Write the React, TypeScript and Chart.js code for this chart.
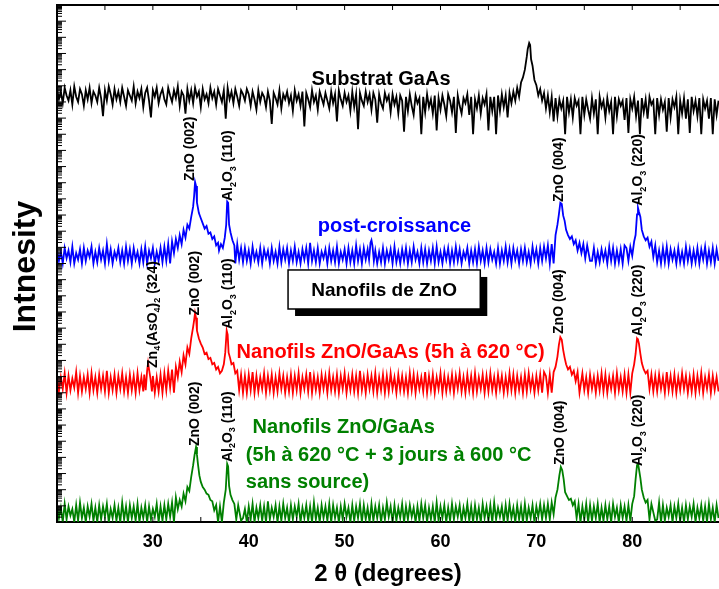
import React, { useEffect, useRef } from "react";
import { Chart, registerables } from "chart.js";

Chart.register(...registerables);

const FONT = '"Liberation Sans", Arial, Helvetica, sans-serif';

// 2θ measurement grid (degrees)
const gridStart = 20;
const gridStep = 0.2;
const gridCount = 346;
const twoTheta: number[] = Array.from({ length: gridCount }, (_, i) => +(gridStart + i * gridStep).toFixed(1));

const xTickLabels = [30, 40, 50, 60, 70, 80];

// ---- Substrat GaAs (black), intensity in panel units (0..100)
const blackNoise = [
  35, 27, 33, 24, 36, 30, 26, 34, 23, 37, 29, 25, 35, 31, 22, 34, 27, 36, 24, 33,
  30, 25, 36, 28, 14, 34, 26, 37, 31, 23, 35, 27, 33, 25, 36, 29, 22, 34, 30, 26,
  37, 24, 33, 28, 35, 21, 32, 36, 26, 13, 34, 29, 36, 24, 31, 35, 27, 23, 36, 30,
  25, 34, 28, 37, 22, 33, 30, 16, 35, 26, 34, 24, 36, 29, 33, 21, 35, 27, 31, 24,
  36, 28, 33, 23, 35, 30, 25, 34, 12, 36, 27, 33, 24, 35, 29, 22, 34, 31, 26, 35,
  31, 22, 33, 27, 19, 34, 25, 32, 29, 21, 33, 26, 8, 32, 28, 23, 34, 20, 31, 27,
  33, 24, 30, 18, 34, 26, 31, 22, 33, 6, 32, 27, 21, 34, 25, 30, 19, 33, 28, 23,
  32, 26, 20, 33, 24, 31, 10, 34, 27, 22, 32, 25, 30, 18, 33, 21, 31, 4, 32, 26,
  22, 33, 25, 31, 19, 32, 27, 9, 31, 24, 20, 32, 26, 30, 17, 31, 23, 29, 16, 30,
  26, 2, 29, 18, 31, 22, 15, 30, 24, 28, 0, 29, 17, 31, 21, 27, 16, 30, 3, 28,
  19, 30, 23, 14, 31, 26, 17, 29, 1, 30, 22, 16, 28, 24, 31, 15, 29, 0, 27, 20,
  30, 16, 28, 23, 31, 3, 29, 18, 30, 25, 32, 24, 33, 28, 34, 31, 36, 33, 38, 42,
  45, 50, 62, 70, 55, 42, 36, 33, 30, 28, 31, 27, 29, 24, 30, 20, 28, 15, 29, 12,
  27, 14, 28, 20, 26, 0, 29, 17, 27, 13, 28, 22, 26, 0, 29, 15, 27, 19, 12, 28,
  16, 27, 0, 29, 21, 26, 13, 28, 18, 25, 0, 29, 14, 27, 22, 26, 11, 28, 1, 27,
  20, 29, 14, 26, 0, 28, 17, 27, 12, 29, 23, 26, 0, 28, 15, 27, 19, 25, 2, 28,
  13, 27, 21, 29, 0, 26, 16, 28, 12, 27, 1, 29, 18, 26, 14, 28, 0, 27, 20, 26,
  12, 28, 0, 27, 15, 26,
];
const blackPeaks: [number, number][][] = [
  [
    [65.6, 29], [65.8, 0], [66.0, 30], [66.2, 18], [66.4, 31], [66.6, 21], [66.8, 30], [67.0, 13],
    [67.2, 32], [67.4, 24], [67.6, 33], [67.8, 26], [68.0, 36], [68.2, 29], [68.4, 40], [68.6, 44],
    [68.8, 50], [69.0, 60], [69.1, 66], [69.25, 70.6], [69.35, 69], [69.45, 58], [69.6, 53], [69.8, 42],
    [70.0, 38], [70.2, 30], [70.4, 35], [70.6, 26], [70.8, 32], [71.0, 20], [71.2, 30], [71.4, 17],
    [71.6, 29], [71.8, 10], [72.0, 28], [72.2, 14], [72.4, 27],
  ],
];

// ---- post-croissance (blue)
const blueNoise = [
  11, 2, 9, 0, 12, 4, 10, 1, 13, 0, 8, 3, 11, 0, 12, 2, 10, 5, 13, 0,
  9, 1, 12, 3, 10, 0, 15, 2, 11, 0, 9, 4, 12, 1, 10, 0, 13, 2, 11, 0,
  12, 3, 9, 0, 11, 1, 13, 0, 10, 4, 12, 0, 9, 2, 14, 1, 11, 0, 10, 3,
  13, 0, 11, 2, 10, 1, 12, 0, 9, 3, 12, 1, 10, 0, 13, 2, 11, 0, 9, 4,
  12, 1, 10, 0, 11, 3, 13, 0, 9, 2, 12, 0, 10, 1, 14, 3, 11, 0, 12, 2,
  10, 0, 13, 3, 9, 1, 12, 0, 11, 4, 10, 0, 12, 2, 9, 0, 13, 1, 11, 3,
  12, 0, 10, 2, 13, 1, 9, 0, 11, 3, 12, 0, 16, 2, 10, 1, 12, 0, 9, 4,
  11, 0, 12, 2, 10, 1, 13, 0, 9, 3, 11, 0, 12, 1, 10, 0, 14, 2, 11, 0,
  12, 3, 10, 0, 11, 2, 13, 0, 9, 1, 12, 0, 10, 3, 11, 0, 13, 1, 9, 0,
  11, 2, 12, 0, 10, 1, 13, 3, 9, 0, 12, 1, 11, 0, 10, 2, 12, 0, 13, 1,
  9, 0, 11, 3, 12, 0, 10, 1, 13, 2, 11, 0, 9, 4, 12, 0, 10, 1, 11, 0,
  13, 2, 10, 0, 12, 1, 11, 3, 9, 0, 12, 0, 10, 2, 13, 1, 11, 0, 12, 3,
  10, 0, 11, 2, 12, 1, 9, 0, 13, 3, 11, 0, 12, 2, 10, 0, 13, 1, 12, 0,
  11, 3, 10, 0, 12, 1, 13, 0, 9, 2, 11, 0, 12, 1, 10, 3, 13, 0, 11, 2,
  12, 0, 9, 1, 11, 3, 10, 0, 13, 2, 12, 0, 10, 1, 11, 0, 14, 3, 12, 0,
  10, 2, 12, 0, 11, 1, 13, 0, 9, 3, 12, 0, 11, 2, 10, 0, 12, 1, 13, 0,
  11, 3, 10, 0, 12, 1, 9, 0, 13, 2, 11, 0, 10, 1, 12, 0, 11, 3, 13, 0,
  10, 1, 12, 0, 11, 2,
];
const bluePeaks: [number, number][][] = [
  [
    [30.8, 12], [31.0, 1], [31.2, 13], [31.4, 2], [31.6, 15], [31.8, 0], [32.0, 17], [32.2, 8],
    [32.4, 19], [32.6, 12], [32.8, 22], [33.0, 15], [33.2, 26], [33.4, 20], [33.6, 30], [33.8, 27],
    [34.0, 36], [34.2, 44], [34.3, 52], [34.4, 63], [34.5, 60], [34.6, 47], [34.8, 39], [35.0, 35],
    [35.2, 31], [35.4, 27], [35.6, 29], [35.8, 23], [36.0, 24], [36.2, 19], [36.4, 21], [36.6, 14],
    [36.8, 16], [36.9, 10], [37.1, 15], [37.3, 12], [37.5, 20], [37.65, 30], [37.75, 48], [37.85, 47],
    [37.95, 30], [38.1, 24], [38.3, 18], [38.5, 14], [38.6, 0], [38.8, 15], [39.0, 3], [39.2, 12],
    [39.4, 1],
  ],
  [[52.4, 11], [52.55, 3], [52.7, 16], [52.8, 18], [52.9, 14], [53.05, 2], [53.2, 10]],
  [
    [70.4, 12], [70.6, 2], [70.8, 13], [71.0, 4], [71.2, 14], [71.4, 0], [71.6, 15], [71.8, 0],
    [72.0, 22], [72.2, 30], [72.35, 38], [72.5, 47], [72.65, 46], [72.8, 37], [72.95, 33], [73.1, 26],
    [73.3, 22], [73.5, 19], [73.7, 21], [73.9, 15], [74.1, 18], [74.3, 10], [74.5, 16], [74.7, 8],
    [74.9, 15], [75.1, 4], [75.3, 14], [75.6, 2],
  ],
  [
    [79.4, 12], [79.6, 2], [79.8, 13], [80.0, 6], [80.2, 17], [80.35, 22], [80.5, 38], [80.6, 43],
    [80.7, 40], [80.85, 36], [81.0, 26], [81.2, 21], [81.4, 18], [81.6, 20], [81.8, 13], [82.0, 17],
    [82.2, 5], [82.4, 14], [82.6, 1],
  ],
];

// ---- Nanofils ZnO/GaAs 5h à 620 °C (red)
const redNoise = [
  14, 1, 12, 3, 15, 0, 13, 2, 11, 4, 16, 0, 13, 1, 12, 3, 14, 0, 15, 2,
  12, 0, 14, 3, 13, 1, 17, 0, 12, 2, 14, 0, 13, 3, 15, 1, 12, 0, 14, 2,
  13, 0, 15, 2, 12, 1, 14, 0, 16, 3, 13, 0, 12, 1, 15, 2, 14, 0, 13, 3,
  12, 1, 14, 0, 13, 2, 15, 0, 12, 3, 14, 1, 13, 0, 16, 2, 12, 0, 14, 1,
  15, 0, 13, 2, 12, 1, 14, 3, 13, 0, 15, 2, 12, 0, 14, 1, 13, 3, 12, 0,
  14, 2, 16, 0, 13, 1, 12, 3, 15, 0, 13, 2, 14, 0, 12, 1, 15, 3, 13, 0,
  12, 1, 14, 0, 13, 2, 15, 0, 12, 3, 14, 1, 16, 0, 13, 2, 12, 0, 14, 3,
  13, 0, 15, 2, 12, 1, 14, 0, 13, 3, 15, 0, 12, 2, 14, 1, 13, 0, 17, 2,
  12, 0, 14, 3, 13, 1, 15, 0, 12, 2, 14, 0, 13, 1, 15, 3, 12, 0, 14, 2,
  13, 1, 12, 0, 15, 2, 14, 0, 13, 3, 12, 1, 16, 0, 13, 2, 14, 0, 12, 3,
  15, 0, 13, 1, 12, 2, 14, 0, 13, 3, 15, 1, 12, 0, 14, 2, 13, 0, 15, 1,
  12, 3, 14, 0, 13, 1, 15, 2, 12, 0, 14, 3, 13, 0, 12, 1, 15, 2, 14, 0,
  13, 2, 12, 0, 14, 1, 15, 3, 12, 0, 13, 2, 14, 0, 16, 1, 12, 3, 13, 0,
  14, 1, 12, 0, 15, 2, 13, 3, 12, 0, 14, 1, 13, 0, 15, 2, 12, 0, 14, 3,
  12, 0, 13, 2, 15, 1, 14, 0, 12, 3, 13, 0, 15, 2, 12, 1, 14, 0, 13, 2,
  15, 0, 12, 3, 14, 1, 13, 0, 12, 2, 15, 0, 13, 1, 14, 3, 12, 0, 16, 2,
  13, 1, 14, 0, 12, 2, 15, 3, 13, 0, 12, 1, 14, 0, 13, 2, 15, 0, 12, 3,
  14, 0, 13, 2, 12, 1,
];
const redPeaks: [number, number][][] = [
  [[29.1, 14], [29.25, 2], [29.4, 17], [29.5, 23], [29.6, 18], [29.75, 11], [29.9, 1]],
  [
    [30.8, 14], [31.0, 0], [31.2, 15], [31.4, 2], [31.6, 17], [31.8, 4], [32.0, 18], [32.2, 0],
    [32.4, 20], [32.6, 12], [32.8, 24], [33.0, 16], [33.2, 29], [33.4, 22], [33.6, 35], [33.8, 30],
    [34.0, 42], [34.2, 51], [34.3, 56], [34.4, 61.7], [34.5, 58], [34.6, 48], [34.8, 42], [35.0, 38],
    [35.2, 35], [35.4, 30], [35.6, 31], [35.8, 26], [36.0, 27], [36.2, 22], [36.4, 23], [36.6, 18],
    [36.8, 20], [37.0, 15], [37.2, 17], [37.4, 22], [37.55, 31], [37.7, 48], [37.8, 45], [37.9, 31],
    [38.05, 27], [38.2, 22], [38.4, 23], [38.6, 15], [38.8, 17], [39.0, 2], [39.2, 14], [39.4, 0],
    [39.6, 13],
  ],
  [
    [71.0, 13], [71.2, 0], [71.4, 14], [71.6, 0], [71.8, 16], [72.0, 20], [72.2, 28], [72.35, 37],
    [72.5, 43], [72.65, 41], [72.8, 33], [72.95, 27], [73.1, 22], [73.3, 18], [73.5, 20], [73.7, 14],
    [73.9, 17], [74.1, 9], [74.3, 16], [74.5, 0], [74.8, 15],
  ],
  [
    [79.6, 14], [79.8, 0], [80.0, 15], [80.2, 22], [80.35, 30], [80.5, 42], [80.6, 41], [80.7, 38],
    [80.85, 30], [81.0, 23], [81.2, 18], [81.4, 15], [81.6, 17], [81.8, 3], [82.0, 14], [82.2, 1],
    [82.4, 13],
  ],
];

// ---- Nanofils ZnO/GaAs + 3 jours à 600 °C (green)
const greenNoise = [
  13, 3, 11, 0, 14, 2, 12, 5, 10, 0, 13, 1, 15, 3, 11, 0, 12, 4, 14, 1,
  11, 0, 13, 2, 12, 4, 14, 0, 10, 3, 13, 1, 11, 0, 15, 2, 12, 0, 13, 3,
  12, 1, 14, 0, 11, 3, 13, 0, 12, 2, 10, 4, 14, 0, 12, 1, 13, 3, 11, 0,
  14, 2, 12, 0, 13, 4, 11, 1, 15, 0, 12, 3, 13, 0, 11, 2, 14, 1, 12, 0,
  13, 0, 11, 3, 12, 1, 14, 0, 13, 2, 11, 4, 12, 0, 14, 1, 13, 3, 10, 0,
  12, 2, 14, 0, 11, 3, 13, 1, 12, 0, 16, 2, 11, 4, 13, 0, 12, 1, 14, 3,
  11, 0, 13, 2, 12, 4, 14, 0, 11, 3, 13, 1, 12, 0, 15, 2, 11, 0, 13, 3,
  12, 1, 14, 0, 13, 3, 11, 0, 12, 2, 14, 4, 11, 0, 13, 1, 12, 3, 14, 0,
  13, 2, 11, 0, 14, 1, 12, 3, 13, 0, 11, 2, 15, 4, 12, 0, 13, 1, 11, 3,
  14, 0, 12, 2, 13, 4, 11, 0, 12, 1, 14, 3, 13, 0, 11, 2, 12, 0, 15, 1,
  12, 3, 13, 0, 11, 1, 14, 2, 12, 4, 13, 0, 11, 3, 14, 1, 12, 0, 13, 2,
  11, 0, 14, 3, 12, 1, 13, 0, 15, 2, 11, 4, 12, 0, 13, 1, 14, 3, 11, 0,
  13, 2, 12, 0, 14, 1, 11, 3, 13, 0, 12, 4, 14, 2, 11, 0, 13, 1, 12, 3,
  14, 0, 11, 2, 13, 4, 12, 0, 15, 1, 13, 3, 11, 0, 12, 2, 14, 0, 13, 1,
  12, 3, 14, 0, 11, 1, 13, 2, 12, 0, 14, 4, 11, 0, 13, 3, 12, 1, 14, 0,
  11, 2, 13, 0, 12, 4, 14, 1, 11, 3, 13, 0, 12, 2, 15, 0, 13, 1, 11, 4,
  13, 0, 12, 3, 14, 1, 11, 0, 13, 2, 12, 4, 14, 0, 11, 3, 13, 1, 12, 0,
  14, 2, 11, 0, 13, 3,
];
const greenPeaks: [number, number][][] = [
  [
    [31.2, 13], [31.4, 2], [31.6, 14], [31.8, 4], [32.0, 15], [32.2, 0], [32.4, 19], [32.6, 10],
    [32.8, 17], [33.0, 12], [33.2, 22], [33.4, 16], [33.6, 27], [33.8, 24], [34.0, 35], [34.2, 44],
    [34.35, 52], [34.5, 58], [34.6, 52], [34.7, 45], [34.85, 36], [35.0, 31], [35.2, 27], [35.4, 25],
    [35.6, 22], [35.8, 21], [36.0, 17], [36.2, 16], [36.4, 9], [36.6, 13], [36.8, 0], [37.0, 12],
    [37.2, 0], [37.4, 15], [37.6, 25], [37.75, 45], [37.85, 43], [37.95, 28], [38.1, 21], [38.3, 17],
    [38.5, 14], [38.7, 2], [38.9, 13], [39.2, 1],
  ],
  [
    [70.8, 13], [71.0, 3], [71.2, 14], [71.4, 2], [71.6, 15], [71.8, 6], [72.0, 19], [72.2, 25],
    [72.4, 36], [72.55, 42.6], [72.7, 40], [72.85, 33], [73.0, 23], [73.2, 20], [73.4, 17], [73.6, 18],
    [73.8, 13], [74.0, 16], [74.2, 3], [74.4, 14], [74.6, 0],
  ],
  [
    [79.6, 13], [79.8, 1], [80.0, 14], [80.2, 20], [80.35, 33], [80.5, 44], [80.6, 45.6], [80.7, 41],
    [80.85, 34], [81.0, 25], [81.2, 19], [81.4, 15], [81.6, 17], [81.8, 2], [82.0, 14], [82.4, 1],
  ],
];

// Peak labels
type Part = [string, boolean];
const ZNO002: Part[] = [["ZnO (002)", false]];
const ZNO004: Part[] = [["ZnO (004)", false]];
const AL110: Part[] = [["Al", false], ["2", true], ["O", false], ["3", true], [" (110)", false]];
const AL220: Part[] = [["Al", false], ["2", true], ["O", false], ["3", true], [" (220)", false]];
const ZNASO: Part[] = [["Zn", false], ["4", true], ["(AsO", false], ["4", true], [")", false], ["2", true], [" (324)", false]];

const peakLabelPanel = [2, 2, 2, 2, 1, 1, 1, 1, 1, 0, 0, 0, 0];
const peakLabelTheta = [33.8, 37.75, 72.3, 80.5, 29.9, 34.25, 37.75, 72.3, 80.5, 34.3, 37.7, 72.4, 80.5];
const peakLabelBase = [63, 47.5, 46.8, 44, 18.4, 59, 48.5, 44.7, 43, 58, 45.6, 43.3, 42.5];
const peakLabelText: Part[][] = [ZNO002, AL110, ZNO004, AL220, ZNASO, ZNO002, AL110, ZNO004, AL220, ZNO002, AL110, ZNO004, AL220];

const seriesColors = ["#000000", "#0000ff", "#ff0000", "#008000"];
const seriesPanels = [3, 2, 1, 0];

function buildSeries(noise: number[], peaks: [number, number][][], panel: number) {
  const ranges = peaks.map((p) => [p[0][0], p[p.length - 1][0]]);
  const pts: { x: number; y: number }[] = [];
  noise.forEach((v, i) => {
    const x = twoTheta[i];
    if (ranges.some(([a, b]) => x >= a - 1e-6 && x <= b + 1e-6)) return;
    pts.push({ x, y: panel + v / 100 });
  });
  peaks.forEach((p) => p.forEach(([x, v]) => pts.push({ x, y: panel + v / 100 })));
  pts.sort((a, b) => a.x - b.x);
  return pts;
}

function drawRotated(ctx: CanvasRenderingContext2D, x: number, y: number, parts: Part[]) {
  ctx.save();
  ctx.translate(x, y);
  ctx.rotate(-Math.PI / 2);
  ctx.textAlign = "left";
  ctx.textBaseline = "alphabetic";
  ctx.fillStyle = "#000";
  let cx = 0;
  for (const [t, sub] of parts) {
    ctx.font = sub ? `bold 9px ${FONT}` : `bold 14px ${FONT}`;
    ctx.fillText(t, cx, sub ? 8.5 : 5);
    cx += ctx.measureText(t).width;
  }
  ctx.restore();
}

const decorPlugin = {
  id: "decor",
  afterDatasetsDraw(chart: any) {
    const { ctx, chartArea } = chart;
    const xs = chart.scales.x;
    const ys = chart.scales.y;
    const { left, right, top, bottom } = chartArea;
    ctx.save();
    ctx.strokeStyle = "#000";
    ctx.lineWidth = 2;
    ctx.beginPath();
    ctx.moveTo(left, bottom);
    ctx.lineTo(left, top);
    ctx.lineTo(right + 2, top);
    ctx.stroke();
    ctx.lineWidth = 1;
    ctx.beginPath();
    for (let k = 0; k <= 32; k++) {
      const yp = ys.getPixelForValue(k / 8);
      ctx.moveTo(left, yp);
      ctx.lineTo(left + 9, yp);
      if (k < 32) {
        for (let m = 2; m <= 9; m++) {
          const ym = ys.getPixelForValue((k + Math.log10(m)) / 8);
          ctx.moveTo(left, ym);
          ctx.lineTo(left + 5, ym);
        }
      }
    }
    for (let t = 25; t <= 85; t += 5) {
      const xp = xs.getPixelForValue(t);
      ctx.moveTo(xp, top);
      ctx.lineTo(xp, top + 5);
      ctx.moveTo(xp, bottom);
      ctx.lineTo(xp, bottom - 5);
    }
    ctx.stroke();

    for (let i = 0; i < peakLabelText.length; i++) {
      const xp = xs.getPixelForValue(peakLabelTheta[i]);
      const yp = ys.getPixelForValue(peakLabelPanel[i] + peakLabelBase[i] / 100) - 1;
      drawRotated(ctx, xp, yp, peakLabelText[i]);
    }

    ctx.font = `bold 20px ${FONT}`;
    ctx.textBaseline = "middle";
    ctx.textAlign = "center";
    ctx.fillStyle = "#000";
    ctx.fillText("Substrat GaAs", xs.getPixelForValue(53.8), ys.getPixelForValue(3.42));
    ctx.fillStyle = "#0000ff";
    ctx.fillText("post-croissance", xs.getPixelForValue(55.2), ys.getPixelForValue(2.29));
    ctx.fillStyle = "#ff0000";
    ctx.fillText("Nanofils ZnO/GaAs (5h à 620 °C)", xs.getPixelForValue(54.8), ys.getPixelForValue(1.31));
    ctx.fillStyle = "#008000";
    ctx.textAlign = "left";
    ctx.fillText("Nanofils ZnO/GaAs", xs.getPixelForValue(40.4), ys.getPixelForValue(0.735));
    ctx.fillText("(5h à 620 °C + 3 jours à 600 °C", xs.getPixelForValue(39.7), ys.getPixelForValue(0.518));
    ctx.fillText("sans source)", xs.getPixelForValue(39.7), ys.getPixelForValue(0.309));

    const bx0 = xs.getPixelForValue(44.1);
    const bx1 = xs.getPixelForValue(64.15);
    const by0 = ys.getPixelForValue(1.95);
    const by1 = ys.getPixelForValue(1.648);
    ctx.fillStyle = "#000";
    ctx.fillRect(bx0 + 7, by0 + 7, bx1 - bx0, by1 - by0);
    ctx.fillStyle = "#fff";
    ctx.fillRect(bx0, by0, bx1 - bx0, by1 - by0);
    ctx.strokeStyle = "#000";
    ctx.lineWidth = 1.5;
    ctx.strokeRect(bx0, by0, bx1 - bx0, by1 - by0);
    ctx.fillStyle = "#000";
    ctx.textAlign = "center";
    ctx.font = `bold 19px ${FONT}`;
    ctx.fillText("Nanofils de ZnO", (bx0 + bx1) / 2, (by0 + by1) / 2 + 1);

    ctx.save();
    ctx.translate(left - 31, (top + bottom) / 2 + 3);
    ctx.rotate(-Math.PI / 2);
    ctx.font = `bold 32px ${FONT}`;
    ctx.textAlign = "center";
    ctx.textBaseline = "middle";
    ctx.fillStyle = "#000";
    ctx.fillText("Intnesity", 0, 0);
    ctx.restore();

    ctx.restore();
  },
};

export default function App() {
  const canvasRef = useRef<HTMLCanvasElement | null>(null);

  useEffect(() => {
    const canvas = canvasRef.current;
    if (!canvas) return;
    const series = [
      buildSeries(blackNoise, blackPeaks, seriesPanels[0]),
      buildSeries(blueNoise, bluePeaks, seriesPanels[1]),
      buildSeries(redNoise, redPeaks, seriesPanels[2]),
      buildSeries(greenNoise, greenPeaks, seriesPanels[3]),
    ];
    const chart = new Chart(canvas, {
      type: "line",
      data: {
        datasets: series.map((pts, i) => ({
          data: pts,
          borderColor: seriesColors[i],
          borderWidth: 1.8,
          pointRadius: 0,
          tension: 0,
          fill: false,
        })),
      },
      options: {
        animation: false,
        responsive: false,
        devicePixelRatio: 1,
        layout: { padding: { left: 57, top: 5, right: 0, bottom: 0 } },
        plugins: { legend: { display: false }, tooltip: { enabled: false } },
        scales: {
          x: {
            type: "linear",
            min: 20,
            max: 89.05,
            afterBuildTicks: (scale: any) => {
              scale.ticks = xTickLabels.map((v) => ({ value: v }));
            },
            grid: { display: true, drawOnChartArea: false, drawTicks: false },
            border: { display: true, color: "#000", width: 2 },
            ticks: {
              color: "#000",
              padding: 11,
              maxRotation: 0,
              font: { family: FONT, size: 18, weight: "bold", lineHeight: 1 },
            },
            title: {
              display: true,
              text: "2 θ (degrees)",
              color: "#000",
              padding: { top: 0, bottom: 3 },
              font: { family: FONT, size: 24, weight: "bold", lineHeight: 1 },
            },
          },
          y: { type: "linear", min: 0, max: 4, display: false },
        },
      },
      plugins: [decorPlugin],
    } as any);
    return () => chart.destroy();
  }, []);

  return (
    <div style={{ position: "fixed", left: 0, top: 0, width: 719, height: 589, background: "#fff" }}>
      <canvas ref={canvasRef} width={719} height={589} style={{ display: "block" }} />
    </div>
  );
}
